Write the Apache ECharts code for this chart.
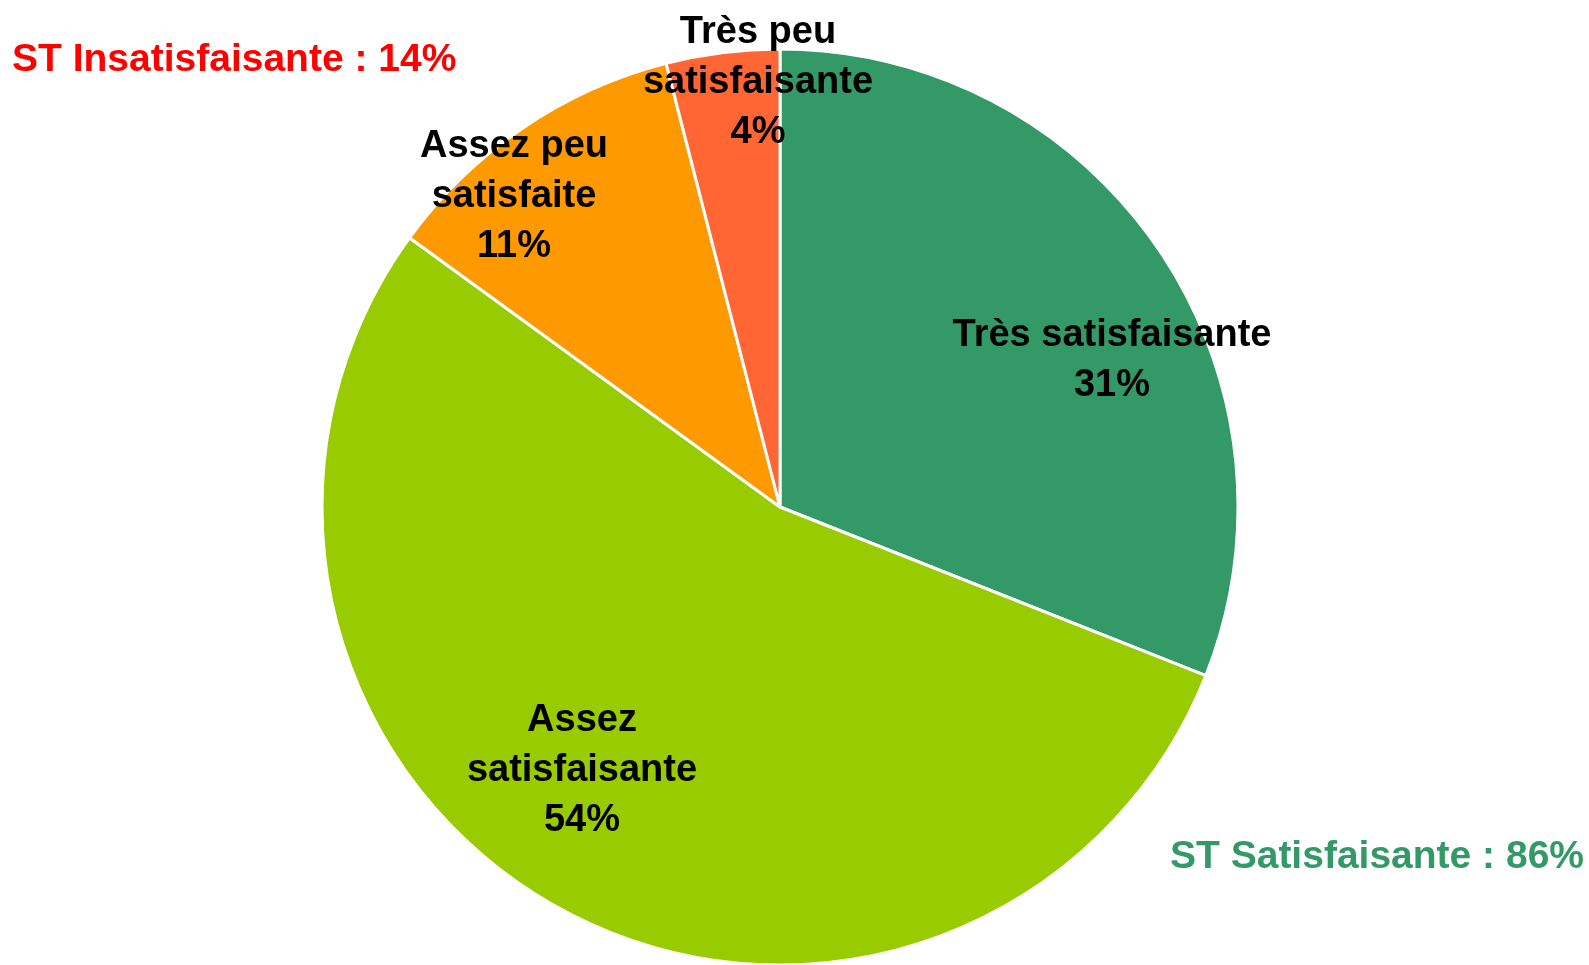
<!DOCTYPE html>
<html>
<head>
<meta charset="utf-8">
<style>
  html, body { margin: 0; padding: 0; background: #fff; }
  #chart { width: 1589px; height: 965px; }
</style>
<script src="https://cdn.jsdelivr.net/npm/echarts@6/dist/echarts.min.js"></script>
</head>
<body>
<div id="chart"></div>
<script>
// slices, clockwise from 12 o'clock
const categories = ['Très satisfaisante', 'Assez satisfaisante', 'Assez peu satisfaite', 'Très peu satisfaisante']
const labelText = ['Très satisfaisante', 'Assez\nsatisfaisante', 'Assez peu\nsatisfaite', 'Très peu\nsatisfaisante']
const values = [31, 54, 11, 4]
const colors = ['#339966', '#99CC00', '#FF9900', '#FF6633']
const subtotals = ['ST Insatisfaisante : 14%', 'ST Satisfaisante : 86%']

// where Excel dropped each label (center of the text block)
const labelPos = [[1112, 361], [582, 771], [514, 197], [758, 83]]

const font = "'Liberation Sans', Arial, sans-serif"

const chart = echarts.init(document.getElementById('chart'))
chart.setOption({
  animation: false,
  series: [
    {
      type: 'pie',
      center: [780, 507],
      radius: 458,
      startAngle: 90,
      clockwise: true,
      itemStyle: {
        borderColor: '#fff',
        borderWidth: 3
      },
      label: {
        show: true,
        position: 'inside',
        formatter: (p) => labelText[p.dataIndex] + '\n' + p.value + '%',
        color: '#000',
        fontFamily: font,
        fontWeight: 'bold',
        fontSize: 38,
        lineHeight: 50,
        align: 'center',
        verticalAlign: 'middle'
      },
      labelLine: { show: false },
      labelLayout: (params) => ({
        x: labelPos[params.dataIndex][0],
        y: labelPos[params.dataIndex][1],
        align: 'center',
        verticalAlign: 'middle'
      }),
      emphasis: { disabled: true },
      data: categories.map((name, i) => ({
        name: name,
        value: values[i],
        itemStyle: { color: colors[i] }
      }))
    }
  ],
  graphic: [
    {
      type: 'text',
      left: 12,
      top: 41,
      style: {
        text: subtotals[0],
        fill: '#FF0000',
        font: 'bold 39px ' + font
      }
    },
    {
      type: 'text',
      right: 5,
      top: 838,
      style: {
        text: subtotals[1],
        fill: '#339966',
        font: 'bold 39px ' + font
      }
    }
  ]
})
</script>
</body>
</html>
